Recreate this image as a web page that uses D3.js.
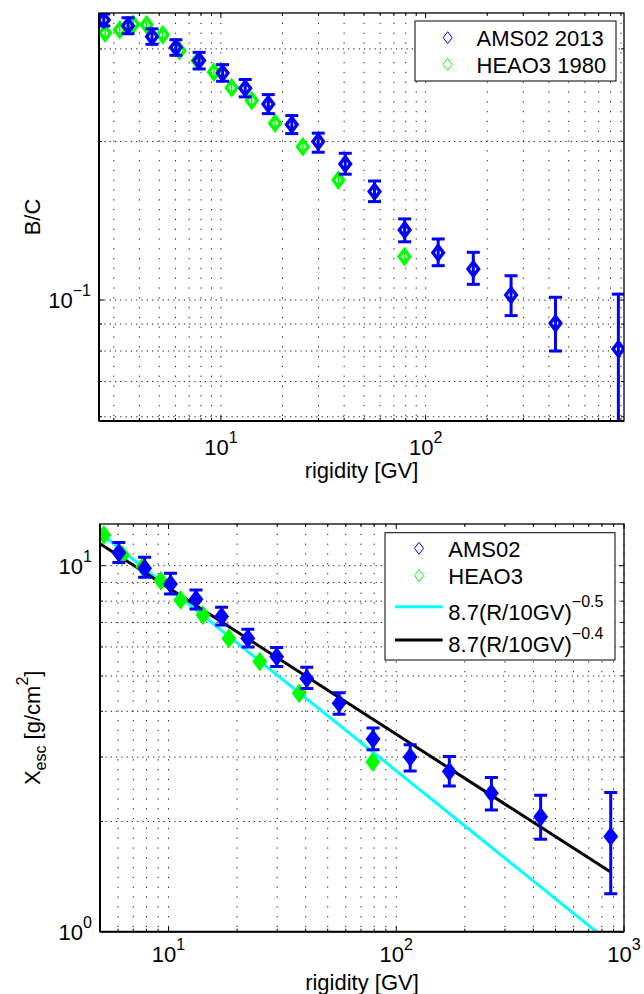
<!DOCTYPE html>
<html><head><meta charset="utf-8">
<script src="https://cdn.jsdelivr.net/npm/d3@7"></script>
<style>
body{margin:0;background:#fff;}
svg{display:block;}
text{font-family:"Liberation Sans",Arial,Helvetica,sans-serif;fill:#000;}
</style>
</head><body>
<svg id="c" width="644" height="994"></svg>
<script>
// ---------- data: B/C panel ----------
const amsR   = [2.68,3.52,4.61,6.03,7.83,10.2,13.15,17.05,22.2,29.9,40.5,56.3,79.0,115.2,171,261.5,431,874];
const amsBC  = [0.3405,0.332,0.3166,0.3018,0.285,0.270,0.2526,0.2356,0.2154,0.200,0.1814,0.1607,0.1359,0.123,0.1145,0.1022,0.0903,0.0807];
const amsBCLo= [0.3317,0.3206,0.3061,0.2917,0.2748,0.2604,0.2432,0.2260,0.2071,0.1909,0.1734,0.1538,0.129,0.1162,0.1071,0.0934,0.080,0.055];
const amsBCHi= [0.3496,0.3438,0.3275,0.3123,0.2955,0.280,0.2624,0.2456,0.2241,0.2075,0.190,0.1683,0.1426,0.1306,0.1232,0.1112,0.1012,0.1026];
const heaoR  = [2.72,3.21,3.73,4.34,5.2,6.28,7.7,9.25,11.3,14.15,18.4,25.15,37.5,78.8];
const heaoBC = [0.3215,0.326,0.334,0.3333,0.319,0.2978,0.2848,0.271,0.2532,0.2393,0.2168,0.1956,0.169,0.1209];

// ---------- data: X_esc panel ----------
const amsRx  = [6.05,7.85,10.2,13.2,17.1,22.3,29.85,40.45,56.1,79.05,115.1,171,261.7,430.5,874.5];
const amsX   = [10.85,9.84,8.91,8.1,7.26,6.33,5.64,4.92,4.21,3.36,3.0,2.74,2.39,2.06,1.82];
const amsXLo = [10.2,9.3,8.37,7.62,6.89,6.0,5.3,4.62,3.93,3.14,2.75,2.5,2.15,1.79,1.27];
const amsXHi = [11.58,10.54,9.53,8.58,7.7,6.7,5.98,5.28,4.5,3.6,3.24,3.01,2.64,2.36,2.40];
const heaoRx = [5.2,6.28,7.7,9.25,11.3,14.15,18.4,25.15,37.5,78.8];
const heaoX  = [12.13,10.7,9.94,9.1,8.06,7.33,6.33,5.47,4.48,2.91];

// power-law reference lines: norm*(R/ref)^idx
const fitNorm = 8.7, fitRef = 10;
const fitIdx = [-0.5, -0.4];
const fitColors = ["#00ffff", "#000000"];
const fitLabels = ["\u22120.5", "\u22120.4"];
const fitRange = [5, 874];

// ---------- ticks ----------
const topXMajor = [10,100], topXMajorExp = ["1","2"];
const topXMinor = [3,4,5,6,7,8,9,20,30,40,50,60,70,80,90,200,300,400,500,600,700,800,900];
const topYMajor = [0.1], topYMajorExp = ["\u22121"];
const topYMinor = [0.06,0.07,0.08,0.09,0.2,0.3];
const botXMajor = [10,100,1000], botXMajorExp = ["1","2","3"];
const botXMinor = [5,6,7,8,9,20,30,40,50,60,70,80,90,200,300,400,500,600,700,800,900];
const botYMajor = [1,10], botYMajorExp = ["0","1"];
const botYMinor = [2,3,4,5,6,7,8,9];

const BLUE = "#0000ff", GREEN = "#00ff00";
const svg = d3.select("#c");
const FS = 22, SUP = 16;

function diamondPath(cx, cy, w, h){
  return `M${cx},${cy-h}L${cx+w},${cy}L${cx},${cy+h}L${cx-w},${cy}Z`;
}

function makePanel(o){
  const g = svg.append("g");
  const x = d3.scaleLog().domain(o.xDom).range([o.left, o.right]);
  const y = d3.scaleLog().domain(o.yDom).range([o.bottom, o.top]);
  const clipId = "clip" + o.id;
  svg.append("clipPath").attr("id", clipId).append("rect")
    .attr("x", o.left).attr("y", o.top).attr("width", o.right-o.left).attr("height", o.bottom-o.top);

  // grid
  const gx = o.xMajor.concat(o.xMinor), gy = o.yMajor.concat(o.yMinor);
  g.append("g").selectAll("line").data(gx).join("line")
    .attr("x1", d=>x(d)).attr("x2", d=>x(d)).attr("y1", o.top).attr("y2", o.bottom)
    .attr("stroke", "#222").attr("stroke-width", 1).attr("stroke-dasharray", "1.3,8.5");
  g.append("g").selectAll("line").data(gy).join("line")
    .attr("y1", d=>y(d)).attr("y2", d=>y(d)).attr("x1", o.left).attr("x2", o.right)
    .attr("stroke", "#222").attr("stroke-width", 1).attr("stroke-dasharray", "1.3,4");

  // ticks (inward, all four sides)
  const tk = g.append("g").attr("stroke", "#000").attr("stroke-width", 1);
  const xt = o.xMajor.map(v=>({v, L:5})).concat(o.xMinor.map(v=>({v, L:3})));
  const yt = o.yMajor.map(v=>({v, L:5})).concat(o.yMinor.map(v=>({v, L:3})));
  tk.selectAll(".xb").data(xt).join("line").attr("class","xb")
    .attr("x1", d=>x(d.v)).attr("x2", d=>x(d.v)).attr("y1", o.bottom).attr("y2", d=>o.bottom-d.L);
  tk.selectAll(".xt").data(xt).join("line").attr("class","xt")
    .attr("x1", d=>x(d.v)).attr("x2", d=>x(d.v)).attr("y1", o.top).attr("y2", d=>o.top+d.L);
  tk.selectAll(".yl").data(yt).join("line").attr("class","yl")
    .attr("y1", d=>y(d.v)).attr("y2", d=>y(d.v)).attr("x1", o.left).attr("x2", d=>o.left+d.L);
  tk.selectAll(".yr").data(yt).join("line").attr("class","yr")
    .attr("y1", d=>y(d.v)).attr("y2", d=>y(d.v)).attr("x1", o.right).attr("x2", d=>o.right-d.L);

  // data layer
  const dl = g.append("g").attr("clip-path", `url(#${clipId})`);
  if (o.lines) o.lines(dl, x, y);
  o.series.forEach(s=>{
    const sg = dl.append("g");
    const n = s.r.length;
    const idx = d3.range(n);
    if (s.lo){
      sg.selectAll(".eb").data(idx).join("line").attr("class","eb")
        .attr("x1", i=>x(s.r[i])).attr("x2", i=>x(s.r[i]))
        .attr("y1", i=>y(s.lo[i])).attr("y2", i=>y(s.hi[i]))
        .attr("stroke", s.color).attr("stroke-width", 3);
      sg.selectAll(".ct").data(idx).join("line").attr("class","ct")
        .attr("x1", i=>x(s.r[i])-6.5).attr("x2", i=>x(s.r[i])+6.5)
        .attr("y1", i=>y(s.hi[i])).attr("y2", i=>y(s.hi[i]))
        .attr("stroke", s.color).attr("stroke-width", 3);
      sg.selectAll(".cb").data(idx).join("line").attr("class","cb")
        .attr("x1", i=>x(s.r[i])-6.5).attr("x2", i=>x(s.r[i])+6.5)
        .attr("y1", i=>y(s.lo[i])).attr("y2", i=>y(s.lo[i]))
        .attr("stroke", s.color).attr("stroke-width", 3);
    } else if (!s.filled) {
      sg.selectAll(".tick").data(idx).join("line").attr("class","tick")
        .attr("x1", i=>x(s.r[i])).attr("x2", i=>x(s.r[i]))
        .attr("y1", i=>y(s.v[i])-4).attr("y2", i=>y(s.v[i])+4)
        .attr("stroke", s.color).attr("stroke-width", 1.5);
    }
    sg.selectAll(".mk").data(idx).join("path").attr("class","mk")
      .attr("d", i=>diamondPath(x(s.r[i]), y(s.v[i]), 5.3, 7))
      .attr("fill", s.filled ? s.color : "none")
      .attr("stroke", s.color).attr("stroke-width", 3.4).attr("stroke-linejoin","miter");
  });

  // box
  g.append("rect").attr("x", o.left).attr("y", o.top)
    .attr("width", o.right-o.left).attr("height", o.bottom-o.top)
    .attr("fill", "none").attr("stroke", "#000").attr("stroke-width", 1.3);
  g.append("line").attr("x1", o.left).attr("x2", o.right).attr("y1", o.bottom).attr("y2", o.bottom)
    .attr("stroke","#000").attr("stroke-width", 2);
  g.append("line").attr("x1", o.left).attr("x2", o.left).attr("y1", o.top).attr("y2", o.bottom)
    .attr("stroke","#000").attr("stroke-width", 2);

  // tick labels
  o.xMajor.forEach((v,i)=>{
    const t = g.append("text").attr("x", x(v)).attr("y", o.bottom+o.xLabOff)
      .attr("text-anchor","middle").attr("font-size", FS);
    t.append("tspan").text("10");
    t.append("tspan").attr("font-size", SUP).attr("dy", -12).text(o.xExp[i]);
  });
  o.yMajor.forEach((v,i)=>{
    const t = g.append("text").attr("x", o.left-8).attr("y", y(v)+8)
      .attr("text-anchor","end").attr("font-size", FS);
    t.append("tspan").text("10");
    t.append("tspan").attr("font-size", SUP).attr("dy", -12).text(o.yExp[i]);
  });

  // axis titles
  g.append("text").attr("x", (o.left+o.right)/2).attr("y", o.xTitleY)
    .attr("text-anchor","middle").attr("font-size", FS).text("rigidity [GV]");
  o.yTitle(g, (o.top+o.bottom)/2);

  // legend
  o.legend(g);
  return {x, y};
}

// ---------- top panel ----------
makePanel({
  id: "top", left: 99, right: 624, top: 13, bottom: 421,
  xDom: [2.54, 931], yDom: [0.0589, 0.351],
  xMajor: topXMajor, xMinor: topXMinor, xExp: topXMajorExp,
  yMajor: topYMajor, yMinor: topYMinor, yExp: topYMajorExp,
  xLabOff: 34, xTitleY: 478,
  series: [
    {r: heaoR, v: heaoBC, color: GREEN, filled: false},
    {r: amsR, v: amsBC, lo: amsBCLo, hi: amsBCHi, color: BLUE, filled: false}
  ],
  yTitle: (g, cy)=>{
    g.append("text").attr("transform", `translate(40,${cy}) rotate(-90)`)
      .attr("text-anchor","middle").attr("font-size", FS).text("B/C");
  },
  legend: (g)=>{
    const L = g.append("g");
    L.append("rect").attr("x", 415).attr("y", 21).attr("width", 201).attr("height", 60)
      .attr("fill","#fff").attr("stroke","#000").attr("stroke-width", 1);
    const items = [["AMS02 2013", BLUE, 37.7, 45.7], ["HEAO3 1980", GREEN, 64.3, 72.7]];
    items.forEach(([lab, col, my, ty])=>{
      L.append("path").attr("d", diamondPath(447.7, my, 4.5, 6)).attr("fill","none")
        .attr("stroke", col).attr("stroke-width", 1);
      L.append("text").attr("x", 476.5).attr("y", ty).attr("font-size", FS).text(lab);
    });
  }
});

// ---------- bottom panel ----------
makePanel({
  id: "bot", left: 100, right: 624, top: 524, bottom: 931.7,
  xDom: [5, 1000], yDom: [1, 13],
  xMajor: botXMajor, xMinor: botXMinor, xExp: botXMajorExp,
  yMajor: botYMajor, yMinor: botYMinor, yExp: botYMajorExp,
  xLabOff: 30.5, xTitleY: 989.5,
  lines: (dl, x, y)=>{
    fitIdx.forEach((k, j)=>{
      const pts = fitRange.map(R=>[R, fitNorm*Math.pow(R/fitRef, k)]);
      dl.append("path").attr("d", d3.line().x(d=>x(d[0])).y(d=>y(d[1]))(pts))
        .attr("fill","none").attr("stroke", fitColors[j]).attr("stroke-width", 3);
    });
  },
  series: [
    {r: heaoRx, v: heaoX, color: GREEN, filled: true},
    {r: amsRx, v: amsX, lo: amsXLo, hi: amsXHi, color: BLUE, filled: true}
  ],
  yTitle: (g, cy)=>{
    const t = g.append("text").attr("transform", `translate(40,${cy}) rotate(-90)`)
      .attr("text-anchor","middle").attr("font-size", FS);
    t.append("tspan").text("X");
    t.append("tspan").attr("font-size", SUP).attr("dy", 6).text("esc");
    t.append("tspan").attr("dy", -6).text(" [g/cm");
    t.append("tspan").attr("font-size", SUP).attr("dy", -12).text("2");
    t.append("tspan").attr("dy", 12).text("]");
  },
  legend: (g)=>{
    const L = g.append("g");
    L.append("rect").attr("x", 385).attr("y", 532.7).attr("width", 230).attr("height", 127.3)
      .attr("fill","#fff").attr("stroke","#000").attr("stroke-width", 1);
    [["AMS02", BLUE, 548.3, 557], ["HEAO3", GREEN, 575.7, 584]].forEach(([lab, col, my, ty])=>{
      L.append("path").attr("d", diamondPath(419, my, 4.5, 6)).attr("fill","none")
        .attr("stroke", col).attr("stroke-width", 1);
      L.append("text").attr("x", 448.3).attr("y", ty).attr("font-size", FS).text(lab);
    });
    const lineY = [606.7, 640], textY = [619.5, 652];
    fitIdx.forEach((k, j)=>{
      L.append("line").attr("x1", 395).attr("x2", 442.7).attr("y1", lineY[j]).attr("y2", lineY[j])
        .attr("stroke", fitColors[j]).attr("stroke-width", 3);
      const t = L.append("text").attr("x", 448.3).attr("y", textY[j]).attr("font-size", FS);
      t.append("tspan").text(`${fitNorm}(R/${fitRef}GV)`);
      t.append("tspan").attr("font-size", SUP).attr("dy", -13).text(fitLabels[j]);
    });
  }
});
</script>
</body></html>
